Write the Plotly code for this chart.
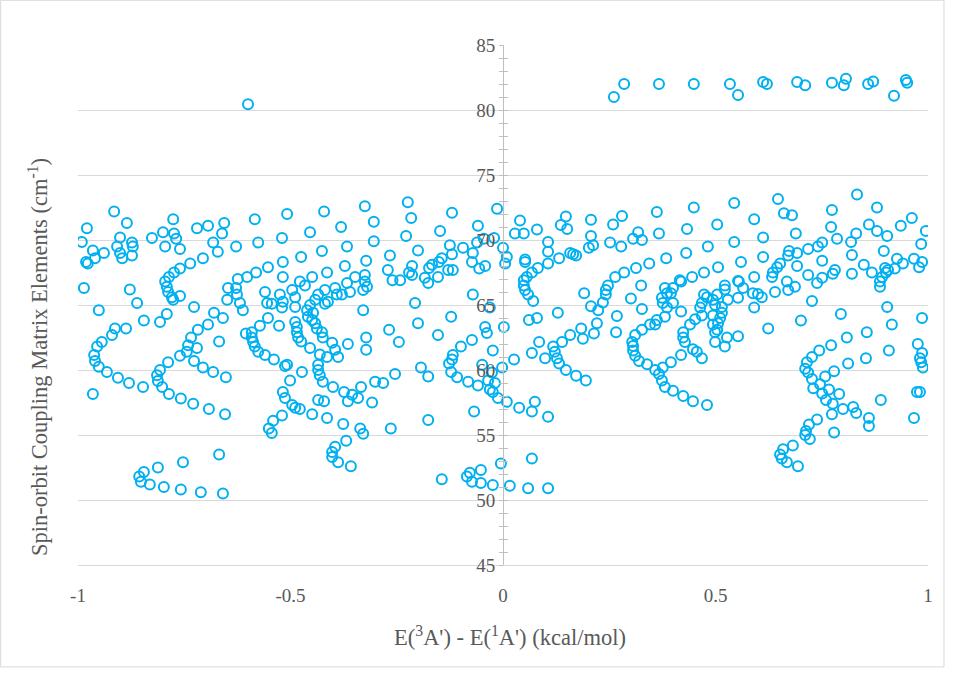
import plotly.graph_objects as go

# Values: x = E(3A')-E(1A') (kcal/mol), y = SOC element (cm-1)
top_x = [0.261, 0.285, 0.367, 0.449, 0.534, 0.553, 0.612, 0.621, 0.692, 0.711, 0.774, 0.802, 0.807, 0.859, 0.871, 0.92, 0.948, 0.951, -0.6]
top_y = [81.0, 82.0, 82.0, 82.0, 82.0, 81.15, 82.15, 82.0, 82.15, 81.9, 82.1, 81.9, 82.4, 82.0, 82.2, 81.1, 82.3, 82.1, 80.45]

upper_left_x = [-0.991, -0.979, -0.965, -0.981, -0.977, -0.96, -0.939, -0.915, -0.901, -0.885, -0.908, -0.901, -0.896, -0.873, -0.871, -0.873, -0.826, -0.8, -0.776, -0.774, -0.769, -0.795, -0.76, -0.72, -0.694, -0.656, -0.661, -0.682, -0.671, -0.628, -0.584, -0.576, -0.52, -0.508, -0.518, -0.553, -0.581, -0.602, -0.706, -0.736, -0.76, -0.774, -0.786, -0.624, -0.518,
                -0.421, -0.325, -0.224, -0.216, -0.304, -0.381, -0.454, -0.304, -0.367, -0.426, -0.475, -0.228, -0.2, -0.266, -0.322, -0.372, -0.414, -0.449, -0.478, -0.148, -0.12, -0.059, -0.014, -0.021, -0.045, -0.061, -0.094, -0.125, -0.12, -0.071, -0.073, -0.042, -0.056, -0.144, -0.151, -0.167, -0.174, -0.129, -0.118, -0.214, -0.221, -0.214, 0.0, 0.005, -0.271, -0.325, -0.348]
upper_left_y = [69.85, 70.9, 69.2, 68.3, 68.2, 68.6, 69.0, 72.2, 70.2, 71.3, 69.5, 69.0, 68.6, 69.8, 69.5, 68.8, 70.15, 70.6, 71.6, 70.5, 70.1, 69.5, 69.3, 70.9, 71.1, 71.3, 70.5, 69.8, 69.1, 69.5, 71.6, 69.8, 70.15, 72.0, 68.3, 67.9, 67.5, 67.15, 68.6, 68.2, 67.8, 67.5, 67.15, 67.0, 67.15,
                72.2, 72.6, 72.9, 71.7, 71.4, 71.0, 70.6, 69.9, 69.5, 69.15, 68.7, 70.3, 69.2, 68.8, 68.4, 68.0, 67.5, 67.15, 66.8, 70.7, 72.1, 71.1, 72.4, 70.15, 70.1, 69.8, 69.4, 69.6, 68.9, 69.0, 68.3, 68.0, 67.8, 68.6, 68.3, 68.1, 67.85, 67.7, 67.7, 68.0, 67.5, 67.3, 69.4, 68.2, 67.7, 67.3, 67.15]

upper_right_x = [0.04, 0.028, 0.049, 0.08, 0.009, 0.052, 0.052, 0.068, 0.056, 0.082, 0.106, 0.106, 0.106, 0.132, 0.136, 0.148, 0.151, 0.158, 0.165, 0.172, 0.207, 0.207, 0.212, 0.202, 0.252, 0.259, 0.28, 0.278, 0.306, 0.318, 0.327, 0.362, 0.367, 0.384, 0.344, 0.313, 0.285, 0.264, 0.433, 0.449, 0.431, 0.482, 0.504, 0.473, 0.445, 0.416, 0.506,
                 0.544, 0.591, 0.544, 0.612, 0.647, 0.661, 0.68, 0.689, 0.612, 0.56, 0.591, 0.553, 0.673, 0.671, 0.692, 0.692, 0.652, 0.645, 0.635, 0.633, 0.718, 0.741, 0.751, 0.751, 0.718, 0.751, 0.774, 0.772, 0.786, 0.819, 0.831, 0.833, 0.861, 0.88, 0.88, 0.904, 0.936, 0.962, 0.995, 0.984, 0.896, 0.927, 0.941, 0.967, 0.986, 0.979, 0.821, 0.849, 0.868, 0.821, 0.781, 0.776, 0.899, 0.906, 0.901, 0.922, 0.892]
upper_right_y = [71.5, 70.5, 70.5, 70.8, 68.7, 68.5, 68.3, 67.5, 67.15, 67.85, 68.2, 69.1, 69.85, 68.6, 71.15, 71.8, 70.85, 69.0, 68.9, 68.8, 71.55, 70.3, 69.6, 69.4, 69.8, 71.2, 71.85, 69.5, 70.1, 70.6, 70.0, 72.15, 70.5, 68.6, 68.2, 67.85, 67.5, 67.15, 70.85, 72.5, 69.0, 69.5, 71.2, 67.5, 67.15, 66.9, 67.9,
                 72.85, 71.6, 69.85, 70.2, 73.15, 72.05, 71.9, 70.5, 68.7, 68.3, 67.15, 66.85, 69.15, 68.8, 69.0, 68.0, 68.2, 67.9, 67.5, 67.15, 69.3, 69.5, 69.8, 68.4, 67.3, 67.1, 72.3, 71.0, 70.1, 69.85, 70.5, 73.5, 71.2, 72.5, 70.7, 70.3, 71.1, 71.7, 70.7, 69.7, 69.15, 68.55, 68.2, 68.55, 68.3, 67.9, 68.85, 68.1, 67.5, 67.4, 67.7, 67.4, 67.85, 67.7, 67.5, 67.8, 67.15]

mid_left_x = [-0.986, -0.951, -0.878, -0.861, -0.845, -0.807, -0.791, -0.795, -0.791, -0.788, -0.779, -0.76, -0.776, -0.727, -0.887, -0.913, -0.92, -0.944, -0.955, -0.962, -0.96, -0.951, -0.932, -0.906, -0.88, -0.847, -0.807, -0.814, -0.812, -0.802, -0.788, -0.76, -0.744, -0.741, -0.734, -0.718, -0.694, -0.68, -0.659, -0.668, -0.72, -0.727, -0.706, -0.682, -0.652, -0.647, -0.649, -0.628, -0.626, -0.619, -0.612, -0.56, -0.555, -0.544, -0.525, -0.518, -0.52, -0.553, -0.572, -0.591, -0.605, -0.591, -0.588, -0.584, -0.576, -0.56, -0.539, -0.513, -0.527,
              -0.466, -0.496, -0.489, -0.489, -0.454, -0.442, -0.435, -0.419, -0.395, -0.391, -0.379, -0.367, -0.36, -0.325, -0.32, -0.329, -0.412, -0.419, -0.447, -0.461, -0.459, -0.449, -0.442, -0.438, -0.426, -0.424, -0.489, -0.485, -0.485, -0.482, -0.475, -0.454, -0.431, -0.414, -0.402, -0.395, -0.388, -0.365, -0.329, -0.322, -0.322, -0.435, -0.435, -0.431, -0.424, -0.4, -0.473, -0.501, -0.508, -0.334, -0.301, -0.282, -0.254, -0.268, -0.245, -0.207, -0.2, -0.193, -0.176, -0.153, -0.122, -0.071, -0.031, -0.042, -0.038, -0.024, 0.002, -0.12, -0.127, -0.118, -0.099, -0.073, -0.049, -0.026, -0.035, -0.122, -0.108, -0.082, -0.059, -0.019, -0.26, -0.242, -0.184, -0.176, -0.153]
mid_left_y = [66.3, 64.6, 66.2, 65.15, 63.8, 63.7, 64.3, 66.8, 66.4, 66.0, 65.6, 65.7, 65.4, 64.85, 63.2, 63.2, 62.7, 62.15, 61.8, 61.15, 60.7, 60.25, 59.85, 59.4, 59.0, 58.7, 60.0, 59.6, 59.15, 58.7, 60.6, 61.1, 61.4, 61.9, 62.5, 63.1, 63.5, 64.4, 64.0, 62.2, 61.7, 60.7, 60.2, 59.85, 59.45, 66.3, 65.4, 66.3, 65.8, 65.15, 64.6, 66.0, 65.15, 65.1, 65.8, 65.25, 64.8, 64.0, 63.4, 62.9, 62.8, 62.5, 62.15, 61.8, 61.4, 61.15, 60.8, 60.3, 63.4,
              66.5, 66.15, 65.6, 64.85, 65.0, 65.4, 65.8, 66.15, 66.3, 65.8, 65.8, 66.7, 66.0, 66.8, 66.4, 66.15, 65.25, 65.1, 64.4, 64.6, 64.1, 63.85, 63.6, 63.2, 62.9, 62.5, 63.7, 63.3, 62.9, 62.5, 62.2, 61.7, 61.2, 61.0, 62.1, 61.55, 61.0, 62.0, 64.6, 62.5, 61.55, 60.4, 60.0, 59.6, 59.1, 58.7, 59.85, 59.2, 60.4, 58.7, 59.1, 59.0, 59.7, 63.1, 62.15, 65.15, 63.6, 60.2, 59.5, 62.7, 64.1, 65.8, 64.8, 63.3, 62.85, 61.5, 63.3, 60.8, 60.5, 61.15, 61.8, 62.3, 60.4, 59.8, 59.2, 59.85, 59.45, 59.1, 58.8, 59.0, 66.9, 66.9, 67.1, 66.7, 67.15]

mid_right_x = [-0.002, 0.026, 0.049, 0.049, 0.052, 0.059, 0.071, 0.061, 0.08, 0.129, 0.068, 0.085, 0.099, 0.118, 0.122, 0.127, 0.132, 0.148, 0.172, 0.195, 0.139, 0.158, 0.184, 0.188, 0.214, 0.221, 0.224, 0.207, 0.191, 0.235, 0.242, 0.242, 0.247, 0.268, 0.266, 0.301, 0.327, 0.325, 0.304, 0.306, 0.306, 0.311, 0.32, 0.339, 0.311, 0.327, 0.346, 0.358, 0.362, 0.381, 0.386, 0.376, 0.374, 0.386, 0.381, 0.4, 0.395, 0.4, 0.419, 0.419, 0.358, 0.376, 0.367, 0.374, 0.395, 0.419, 0.447, 0.456, 0.468, 0.428, 0.424, 0.424, 0.44, 0.452, 0.468, 0.464, 0.468, 0.48, 0.494, 0.499, 0.494, 0.494, 0.499, 0.499, 0.473,
               0.522, 0.522, 0.504, 0.529, 0.515, 0.515, 0.511, 0.506, 0.504, 0.527, 0.522, 0.553, 0.555, 0.553, 0.565, 0.588, 0.6, 0.609, 0.591, 0.64, 0.624, 0.668, 0.671, 0.687, 0.739, 0.727, 0.701, 0.795, 0.904, 0.986, 0.915, 0.856, 0.809, 0.772, 0.744, 0.727, 0.715, 0.711, 0.718, 0.727, 0.746, 0.758, 0.779, 0.812, 0.854, 0.908, 0.976, 0.986, 0.981, 0.984, 0.988, 0.887, 0.887]
mid_right_y = [60.2, 60.8, 66.9, 66.5, 66.15, 65.8, 65.3, 63.85, 64.0, 64.4, 61.3, 62.15, 60.9, 61.8, 61.4, 60.9, 60.5, 60.0, 59.55, 59.2, 62.15, 62.7, 63.2, 62.4, 62.8, 63.6, 64.6, 64.9, 65.9, 65.2, 65.8, 66.15, 66.5, 64.15, 62.9, 65.5, 64.7, 66.5, 62.15, 61.85, 61.5, 61.1, 60.7, 60.45, 62.7, 63.1, 63.5, 63.5, 63.85, 64.1, 64.8, 65.15, 65.55, 65.9, 66.3, 66.3, 65.9, 65.15, 64.5, 66.8, 60.0, 60.2, 59.7, 59.2, 60.6, 61.15, 61.6, 61.4, 60.9, 62.15, 62.5, 62.9, 63.5, 63.9, 64.2, 64.8, 65.15, 65.6, 65.4, 65.0, 64.2, 63.5, 62.9, 62.15, 65.8,
               66.5, 66.2, 65.8, 65.4, 64.85, 64.4, 64.0, 63.6, 63.1, 62.5, 61.8, 62.6, 66.8, 65.55, 66.3, 65.9, 65.85, 65.6, 64.8, 66.0, 63.2, 66.8, 66.15, 66.4, 66.7, 65.3, 63.8, 64.3, 64.85, 64.0, 63.5, 62.9, 62.5, 61.9, 61.5, 61.0, 60.6, 60.1, 59.8, 59.3, 58.9, 59.5, 59.9, 60.5, 60.9, 61.5, 62.0, 61.3, 60.9, 60.6, 60.2, 66.8, 66.4]

low_left_x = [-0.965, -0.786, -0.758, -0.729, -0.692, -0.654, -0.544, -0.551, -0.541, -0.52, -0.513, -0.518, -0.668, -0.753, -0.812, -0.845, -0.856, -0.852, -0.831, -0.798, -0.758, -0.711, -0.659,
              -0.496, -0.489, -0.478, -0.449, -0.435, -0.421, -0.414, -0.374, -0.365, -0.355, -0.341, -0.308, -0.376, -0.336, -0.329, -0.264, -0.176, -0.369, -0.395, -0.402, -0.402, -0.388, -0.358, -0.068, -0.144, -0.085, -0.078, -0.073, -0.052, -0.052, -0.024, -0.005, -0.031, -0.024, -0.012]
low_left_y = [58.15, 58.15, 57.8, 57.4, 57.0, 56.6, 55.15, 55.5, 56.1, 56.5, 57.85, 58.3, 53.5, 52.9, 52.5, 52.15, 51.8, 51.4, 51.2, 51.0, 50.8, 50.6, 50.5,
              57.3, 57.1, 57.0, 56.6, 57.7, 57.6, 56.3, 58.3, 57.6, 58.1, 57.85, 57.5, 55.85, 55.5, 55.1, 55.5, 56.15, 54.55, 54.1, 53.7, 53.3, 52.9, 52.6, 56.8, 51.6, 51.8, 52.1, 51.4, 52.3, 51.3, 51.15, 52.8, 58.5, 58.3, 57.85]

low_right_x = [0.009, 0.038, 0.075, 0.068, 0.106, 0.381, 0.4, 0.424, 0.447, 0.48, 0.068, 0.016, 0.059, 0.106,
               0.73, 0.767, 0.791, 0.751, 0.76, 0.776, 0.8, 0.824, 0.831, 0.774, 0.889, 0.861, 0.861, 0.974, 0.981, 0.967, 0.779, 0.739, 0.72, 0.713, 0.711, 0.722, 0.682, 0.659, 0.652, 0.656, 0.668, 0.694]
low_right_y = [57.55, 57.1, 57.55, 56.8, 56.4, 58.7, 58.4, 58.0, 57.6, 57.3, 53.2, 51.1, 50.9, 50.9,
               58.6, 58.5, 58.15, 58.2, 57.7, 57.4, 57.0, 57.15, 56.7, 56.6, 57.7, 56.3, 55.7, 58.3, 58.3, 56.3, 55.2, 56.2, 55.8, 55.3, 55.0, 54.7, 54.2, 53.9, 53.5, 53.2, 52.9, 52.6]

x_vals = top_x + upper_left_x + upper_right_x + mid_left_x + mid_right_x + low_left_x + low_right_x
y_vals = top_y + upper_left_y + upper_right_y + mid_left_y + mid_right_y + low_left_y + low_right_y

x_ticks = [-1, -0.5, 0, 0.5, 1]
x_tick_labels = ["-1", "-0.5", "0", "0.5", "1"]
y_ticks = [45, 50, 55, 60, 65, 70, 75, 80, 85]

SERIF = "Liberation Serif, Times New Roman, serif"
GRAY = "#595959"

fig = go.Figure()
fig.add_trace(go.Scatter(
    x=x_vals, y=y_vals, mode="markers",
    marker=dict(symbol="circle", size=10, color="rgba(0,0,0,0)",
                line=dict(color="#00B0F0", width=2)),
    hoverinfo="x+y", showlegend=False))
fig.add_trace(go.Scatter(x=[0], y=[60], yaxis="y2", mode="markers",
                         marker=dict(opacity=0), hoverinfo="skip", showlegend=False))

fig.update_layout(
    width=957, height=674,
    margin=dict(l=78, r=29, t=45, b=109),
    paper_bgcolor="white", plot_bgcolor="white",
    xaxis=dict(range=[-1, 1], tickvals=x_ticks, ticktext=x_tick_labels,
               showgrid=False, zeroline=False, showline=True, linecolor="#d9d9d9",
               ticks="", ticklabelstandoff=13,
               tickfont=dict(family=SERIF, size=19, color=GRAY)),
    yaxis=dict(range=[45, 85], tickvals=y_ticks, showgrid=True, gridcolor="#d9d9d9",
               zeroline=False, showline=True, linecolor="#bfbfbf",
               anchor="free", position=0.5, side="left",
               ticks="outside", ticklen=4, tickcolor="#bfbfbf",
               minor=dict(dtick=1, ticks="outside", ticklen=4, tickcolor="#bfbfbf", showgrid=False),
               tickfont=dict(family=SERIF, size=19, color=GRAY)),
    yaxis2=dict(range=[45, 85], overlaying="y", anchor="free", position=0.5, side="left",
                showgrid=False, zeroline=False, showline=False, showticklabels=False,
                tickvals=y_ticks, ticks="inside", ticklen=4, tickcolor="#bfbfbf",
                minor=dict(dtick=1, ticks="inside", ticklen=4, tickcolor="#bfbfbf", showgrid=False)),
    annotations=[
        dict(text="Spin-orbit Coupling Matrix Elements (cm<sup>-1</sup>)", textangle=-90,
             xref="paper", yref="paper", x=-0.047, y=0.40, showarrow=False,
             xanchor="center", yanchor="middle",
             font=dict(family=SERIF, size=22.5, color=GRAY)),
        dict(text="E(<sup>3</sup>A') - E(<sup>1</sup>A') (kcal/mol)",
             xref="paper", yref="paper", x=0.508, y=-0.137, showarrow=False,
             xanchor="center", yanchor="middle",
             font=dict(family=SERIF, size=22.5, color=GRAY)),
    ],
    shapes=[dict(type="rect", xref="paper", yref="paper",
                 x0=-0.091, x1=1.0188, y0=-0.196, y1=1.086,
                 line=dict(color="#d9d9d9", width=1), fillcolor="rgba(0,0,0,0)")],
)

fig.write_html("out.html")
